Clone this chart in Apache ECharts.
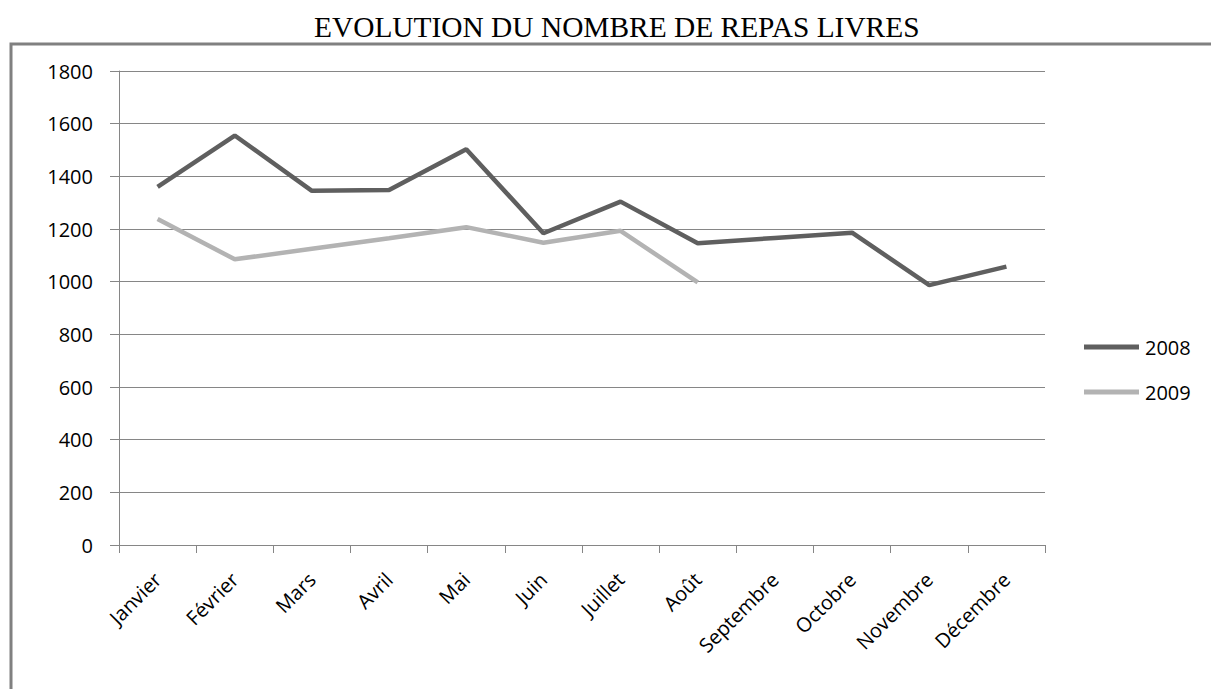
<!DOCTYPE html>
<html>
<head>
<meta charset="utf-8">
<script src="https://cdn.jsdelivr.net/npm/echarts@6/dist/echarts.min.js"></script>
<style>
  html, body { margin: 0; padding: 0; background: #fff; }
  #chart { width: 1211px; height: 689px; }
</style>
</head>
<body>
<div id="chart"></div>
<script>
(function() {
  // --- data ---
  var months = ['Janvier', 'Février', 'Mars', 'Avril', 'Mai', 'Juin', 'Juillet', 'Août', 'Septembre', 'Octobre', 'Novembre', 'Décembre'];
  var repas2008 = [1360, 1555, 1345, 1348, 1503, 1184, 1304, 1146, 1166, 1186, 987, 1057];
  var repas2009 = [1238, 1085, 1125, 1165, 1207, 1148, 1193, 997, null, null, null, null];
  var yTicks = [0, 200, 400, 600, 800, 1000, 1200, 1400, 1600, 1800];

  var dark = '#5f5f5f';
  var light = '#b3b3b3';
  var rule = '#868686';
  var labelFont = '"Open Sans", sans-serif';

  var chart = echarts.init(document.getElementById('chart'), null, { renderer: 'svg' });
  chart.setOption({
    animation: false,
    backgroundColor: '#fff',
    title: {
      text: 'EVOLUTION DU NOMBRE DE REPAS LIVRES',
      left: 314,
      top: 12,
      padding: 0,
      textStyle: { fontFamily: '"Liberation Serif", serif', fontSize: 29.4, fontWeight: 'normal', color: '#000' }
    },
    graphic: [
      {
        type: 'rect',
        shape: { x: 11, y: 44, width: 1400, height: 900 },
        style: { fill: 'none', stroke: '#808080', lineWidth: 3 },
        silent: true
      }
    ],
    legend: {
      orient: 'vertical',
      left: 1084,
      top: 337,
      icon: 'rect',
      itemWidth: 55,
      itemHeight: 5,
      itemGap: 25,
      padding: 0,
      textStyle: { fontFamily: labelFont, fontSize: 20, lineHeight: 20, color: '#000', padding: [0, 0, 0, 1] },
      data: ['2008', '2009']
    },
    grid: { left: 119, right: 166, top: 71, bottom: 144 },
    xAxis: {
      type: 'category',
      data: months,
      boundaryGap: true,
      axisLine: { lineStyle: { color: rule, width: 1 } },
      axisTick: { show: true, length: 8, lineStyle: { color: rule } },
      axisLabel: { rotate: 45, margin: 31, interval: 0, fontFamily: labelFont, fontSize: 20, color: '#000' }
    },
    yAxis: {
      type: 'value',
      min: yTicks[0],
      max: yTicks[yTicks.length - 1],
      interval: yTicks[1] - yTicks[0],
      axisLine: { show: true, lineStyle: { color: rule, width: 1 } },
      axisTick: { show: true, length: 9, lineStyle: { color: rule } },
      splitLine: { lineStyle: { color: rule, width: 1 } },
      axisLabel: {
        margin: 26,
        fontFamily: labelFont,
        fontSize: 20,
        color: '#000',
        formatter: function(v) { return String(v); }
      }
    },
    series: [
      {
        name: '2008',
        type: 'line',
        data: repas2008,
        symbol: 'none',
        lineStyle: { color: dark, width: 4.5 },
        itemStyle: { color: dark }
      },
      {
        name: '2009',
        type: 'line',
        data: repas2009,
        symbol: 'none',
        lineStyle: { color: light, width: 4.5 },
        itemStyle: { color: light }
      }
    ]
  });
})();
</script>
</body>
</html>
